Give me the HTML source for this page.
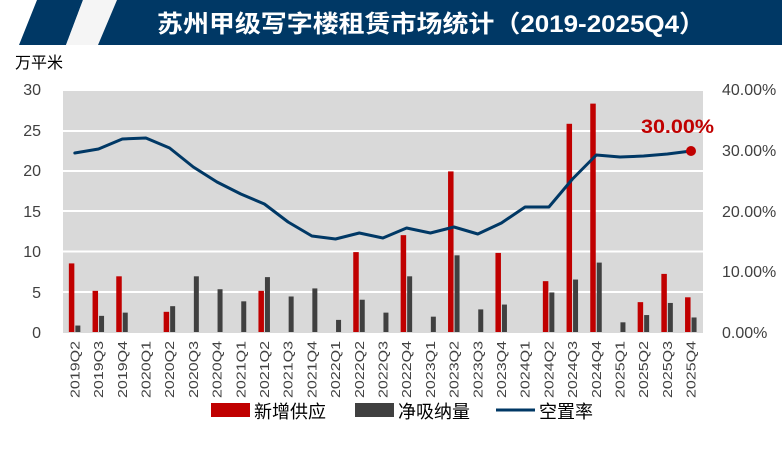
<!DOCTYPE html>
<html><head><meta charset="utf-8"><style>
body{margin:0;background:#fff;}
svg{display:block;font-family:"Liberation Sans","Noto Sans CJK SC",sans-serif;}
</style></head><body>
<svg width="782" height="452" viewBox="0 0 782 452" xmlns="http://www.w3.org/2000/svg">
<rect width="782" height="452" fill="#fff"/>
<polygon points="37,0 83,0 66,45 19,45" fill="#003865"/>
<polygon points="83,0 117,0 98,45 66,45" fill="#f5f5f5"/>
<polygon points="117,0 782,0 782,45 98,45" fill="#003865"/>
<text x="431" y="32" fill="#fff" font-size="24" font-weight="bold" text-anchor="middle" textLength="548" lengthAdjust="spacingAndGlyphs">苏州甲级写字楼租赁市场统计（2019-2025Q4）</text>
<text x="15" y="68" font-size="16" fill="#000">万平米</text>
<rect x="63" y="91" width="640" height="242" fill="#d9d9d9"/>
<g stroke="#fff" stroke-width="2">
<line x1="63" x2="703" y1="292" y2="292"/><line x1="63" x2="703" y1="251.5" y2="251.5"/>
<line x1="63" x2="703" y1="211" y2="211"/><line x1="63" x2="703" y1="171" y2="171"/>
<line x1="63" x2="703" y1="131" y2="131"/>
</g>
<g font-size="16" fill="#404040" text-anchor="end">
<text x="41" y="338">0</text><text x="41" y="298">5</text><text x="41" y="257">10</text>
<text x="41" y="217">15</text><text x="41" y="176">20</text><text x="41" y="136">25</text><text x="41" y="95">30</text>
</g>
<g font-size="16" fill="#404040">
<text x="722" y="338">0.00%</text><text x="722" y="277">10.00%</text><text x="722" y="217">20.00%</text>
<text x="722" y="156">30.00%</text><text x="722" y="95">40.00%</text>
</g>
<g id="bars"></g>
<g id="labels" font-size="13" fill="#404040"></g>
<polyline id="ln" fill="none" stroke="#003865" stroke-width="3" stroke-linejoin="round" stroke-linecap="round"/>
<circle cx="691" cy="151" r="5" fill="#c00000"/>
<text x="641" y="133" font-size="19" font-weight="bold" fill="#c00000" textLength="73" lengthAdjust="spacingAndGlyphs">30.00%</text>
<rect x="211" y="403" width="39" height="14" fill="#c00000"/>
<text x="254" y="418" font-size="18" fill="#000">新增供应</text>
<rect x="355" y="403" width="39" height="14" fill="#404040"/>
<text x="398" y="418" font-size="18" fill="#000">净吸纳量</text>
<line x1="496" x2="535" y1="410" y2="410" stroke="#003865" stroke-width="3"/>
<text x="539" y="418" font-size="18" fill="#000">空置率</text>
</svg>
<script>
var cats=["2019Q2","2019Q3","2019Q4","2020Q1","2020Q2","2020Q3","2020Q4","2021Q1","2021Q2","2021Q3","2021Q4","2022Q1","2022Q2","2022Q3","2022Q4","2023Q1","2023Q2","2023Q3","2023Q4","2024Q1","2024Q2","2024Q3","2024Q4","2025Q1","2025Q2","2025Q3","2025Q4"];
var red=[8.5,5.1,6.9,0,2.5,0,0,0,5.1,0,0,0,9.9,0,12.0,0,19.9,0,9.8,0,6.3,25.8,28.3,0,3.7,7.2,4.3];
var gray=[0.8,2.0,2.4,0,3.2,6.9,5.3,3.8,6.8,4.4,5.4,1.5,4.0,2.4,6.9,1.9,9.5,2.8,3.4,0,4.9,6.5,8.6,1.2,2.1,3.6,1.8];
var ly=[153,149,139,138,148,167,182,194,204,222,236,239,233,238,228,233,227,234,223,207,207,179,155,157,156,154,151];
var ns="http://www.w3.org/2000/svg",b=document.getElementById("bars"),l=document.getElementById("labels"),pts=[];
function mk(t,a,p){var e=document.createElementNS(ns,t);for(var k in a)e.setAttribute(k,a[k]);p.appendChild(e);return e;}
for(var i=0;i<27;i++){var c=74.85+23.7*i;
if(red[i]>0){var h=red[i]*8.07;mk("rect",{x:c-6,y:332-h,width:5.5,height:h,fill:"#c00000"},b);}
if(gray[i]>0){var h2=gray[i]*8.07;mk("rect",{x:c+0.5,y:332-h2,width:5,height:h2,fill:"#404040"},b);}
var t=mk("text",{transform:"translate("+(c+4.5)+",398) rotate(-90)",textLength:"57",lengthAdjust:"spacingAndGlyphs"},l);t.textContent=cats[i];
pts.push(c.toFixed(1)+","+ly[i]);}
document.getElementById("ln").setAttribute("points",pts.join(" "));
</script>
</body></html>
